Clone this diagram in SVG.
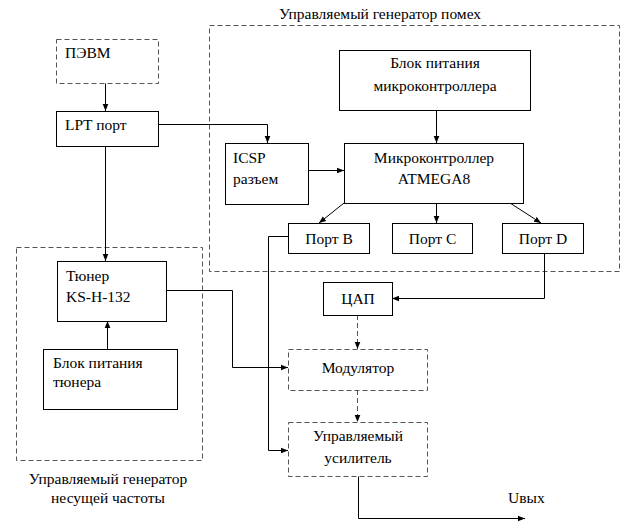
<svg xmlns="http://www.w3.org/2000/svg" width="623" height="522" viewBox="0 0 623 522" font-family="'Liberation Serif', 'Times New Roman', Times, serif">
<defs>
<style>
text{font-family:'Liberation Serif','Times New Roman',Times,serif;font-size:15.5px;fill:#000}
.c{text-anchor:middle}
.box{fill:#fff;stroke:#000;stroke-width:1}
.dbox{fill:#fff;stroke:#555;stroke-width:1;stroke-dasharray:5,3}
.grp{fill:none;stroke:#555;stroke-width:1;stroke-dasharray:5,3}
.ln{fill:none;stroke:#000;stroke-width:1}
.dln{fill:none;stroke:#555;stroke-width:1;stroke-dasharray:5,3}
</style>
<marker id="ah" viewBox="0 0 10 10" refX="10" refY="5" markerWidth="7" markerHeight="7" markerUnits="userSpaceOnUse" orient="auto">
<path d="M0,1 L10,5 L0,9 z" fill="#000"/>
</marker>
</defs>
<rect width="623" height="522" fill="#fff"/>
<g id="group-pomeh">
<rect class="grp" x="209.5" y="25.5" width="410" height="246"/>
<text class="c" x="380" y="19">Управляемый генератор помех</text>
</g>
<g id="group-nesushchey">
<rect class="grp" x="16.5" y="247.5" width="186" height="213"/>
<text class="c" x="108" y="484">Управляемый генератор</text>
<text class="c" x="108" y="503">несущей частоты</text>
</g>
<g id="connectors">
<path class="ln" d="M105.5 83 V111" marker-end="url(#ah)"/>
<path class="ln" d="M158 124.5 H267.5 V143" marker-end="url(#ah)"/>
<path class="ln" d="M105.5 146 V261" marker-end="url(#ah)"/>
<path class="ln" d="M436.5 110 V143" marker-end="url(#ah)"/>
<path class="ln" d="M308 170.5 H344" marker-end="url(#ah)"/>
<path class="ln" d="M344 203 L319 223" marker-end="url(#ah)"/>
<path class="ln" d="M436.5 203 V223" marker-end="url(#ah)"/>
<path class="ln" d="M510 203 L541 223" marker-end="url(#ah)"/>
<path class="ln" d="M288 236.5 H268.5 V450.5 H288" marker-end="url(#ah)"/>
<path class="ln" d="M544.5 253 V298.5 H392" marker-end="url(#ah)"/>
<path class="ln" d="M166 290.5 H232.5 V367.5 H288" marker-end="url(#ah)"/>
<path class="ln" d="M107.5 349 V321" marker-end="url(#ah)"/>
<path class="dln" d="M357.5 315 V349" marker-end="url(#ah)"/>
<path class="dln" d="M357.5 390 V422" marker-end="url(#ah)"/>
<path class="ln" d="M358.5 476 V518.5 H525" marker-end="url(#ah)"/>
</g>
<g id="pevm">
<rect class="dbox" x="56.5" y="39.5" width="102" height="44"/>
<text x="65" y="58">ПЭВМ</text>
</g>
<g id="lpt">
<rect class="box" x="56.5" y="111.5" width="102" height="35"/>
<text x="65" y="130">LPT порт</text>
</g>
<g id="icsp">
<rect class="box" x="225.5" y="143.5" width="83" height="61"/>
<text x="233" y="163">ICSP</text>
<text x="233" y="184">разъем</text>
</g>
<g id="mc-power">
<rect class="box" x="339.5" y="50.5" width="191" height="60"/>
<text class="c" x="435" y="68">Блок питания</text>
<text class="c" x="435" y="91">микроконтроллера</text>
</g>
<g id="mc">
<rect class="box" x="344.5" y="143.5" width="179" height="60"/>
<text class="c" x="434" y="163">Микроконтроллер</text>
<text class="c" x="434" y="184">ATMEGA8</text>
</g>
<g id="port-b">
<rect class="box" x="288.5" y="223.5" width="81" height="30"/>
<text class="c" x="329" y="244">Порт B</text>
</g>
<g id="port-c">
<rect class="box" x="392.5" y="223.5" width="80" height="30"/>
<text class="c" x="432.5" y="244">Порт C</text>
</g>
<g id="port-d">
<rect class="box" x="502.5" y="223.5" width="81" height="30"/>
<text class="c" x="543" y="244">Порт D</text>
</g>
<g id="tuner">
<rect class="box" x="57.5" y="261.5" width="109" height="60"/>
<text x="66" y="281">Тюнер</text>
<text x="66" y="302">KS-H-132</text>
</g>
<g id="tuner-power">
<rect class="box" x="43.5" y="349.5" width="134" height="60"/>
<text x="53" y="368">Блок питания</text>
<text x="53" y="387">тюнера</text>
</g>
<g id="dac">
<rect class="box" x="323.5" y="282.5" width="69" height="33"/>
<text class="c" x="358" y="304">ЦАП</text>
</g>
<g id="modulator">
<rect class="dbox" x="288.5" y="349.5" width="139" height="41"/>
<text class="c" x="358" y="373">Модулятор</text>
</g>
<g id="amplifier">
<rect class="dbox" x="288.5" y="422.5" width="139" height="54"/>
<text class="c" x="358" y="441">Управляемый</text>
<text class="c" x="358" y="463">усилитель</text>
</g>
<g id="output-label">
<text x="508" y="503">Uвых</text>
</g>
</svg>
